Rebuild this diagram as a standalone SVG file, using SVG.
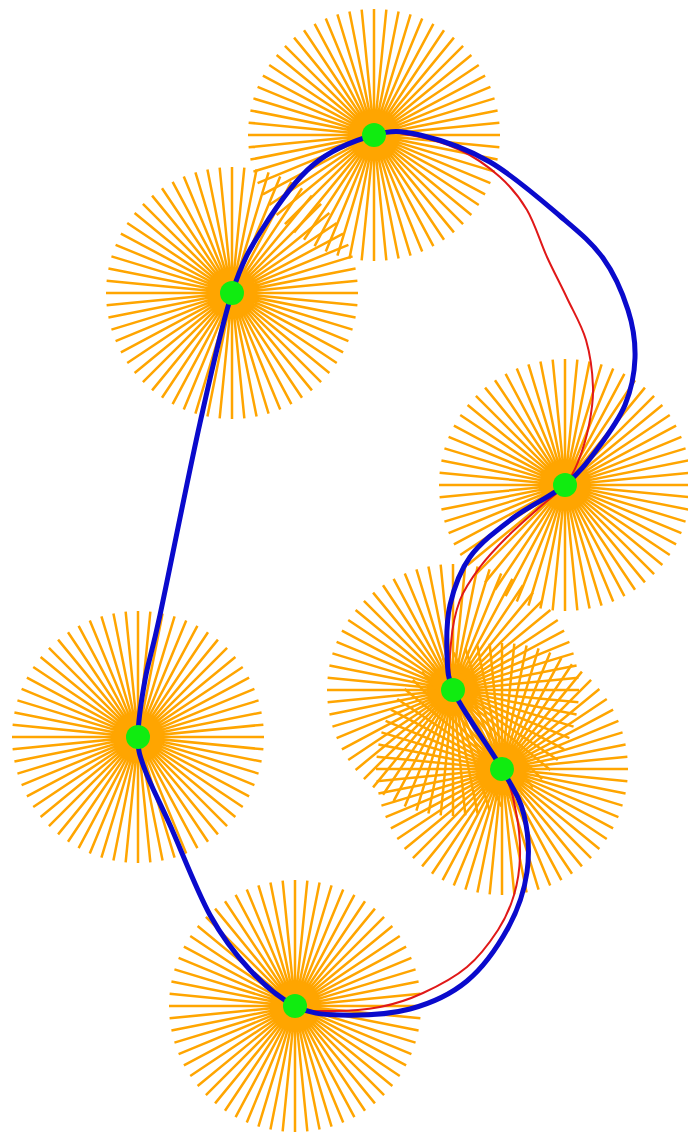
<svg xmlns="http://www.w3.org/2000/svg" xmlns:xlink="http://www.w3.org/1999/xlink" width="688" height="1135" viewBox="0 0 688 1135">
<style>
.ray{fill:none;stroke:#FFA500;stroke-width:2.5}
.blue{fill:none;stroke:#0a0acc;stroke-width:5;stroke-linejoin:round}
.red{fill:none;stroke:#e01818;stroke-width:2}
.dot{fill:#10ec10}
</style>
<defs>
<path id="burst" class="ray" d="M-126 0H126M-125.39 -12.35L125.39 12.35M-123.58 -24.58L123.58 24.58M-120.57 -36.58L120.57 36.58M-116.41 -48.22L116.41 48.22M-111.12 -59.4L111.12 59.4M-104.77 -70L104.77 70M-97.4 -79.93L97.4 79.93M-89.1 -89.1L89.1 89.1M-79.93 -97.4L79.93 97.4M-70 -104.77L70 104.77M-59.4 -111.12L59.4 111.12M-48.22 -116.41L48.22 116.41M-36.58 -120.57L36.58 120.57M-24.58 -123.58L24.58 123.58M-12.35 -125.39L12.35 125.39M0 -126V126M12.35 -125.39L-12.35 125.39M24.58 -123.58L-24.58 123.58M36.58 -120.57L-36.58 120.57M48.22 -116.41L-48.22 116.41M59.4 -111.12L-59.4 111.12M70 -104.77L-70 104.77M79.93 -97.4L-79.93 97.4M89.1 -89.1L-89.1 89.1M97.4 -79.93L-97.4 79.93M104.77 -70L-104.77 70M111.12 -59.4L-111.12 59.4M116.41 -48.22L-116.41 48.22M120.57 -36.58L-120.57 36.58M123.58 -24.58L-123.58 24.58M125.39 -12.35L-125.39 12.35"/>
</defs>
<rect width="688" height="1135" fill="#ffffff"/>
<g id="node-1"><use href="#burst" xlink:href="#burst" x="374" y="135"/></g>
<g id="node-2"><use href="#burst" xlink:href="#burst" x="232" y="293"/></g>
<g id="node-3"><use href="#burst" xlink:href="#burst" x="565" y="485"/></g>
<g id="node-4"><use href="#burst" xlink:href="#burst" x="453" y="690"/></g>
<g id="node-5"><use href="#burst" xlink:href="#burst" x="502" y="769"/></g>
<g id="node-6"><use href="#burst" xlink:href="#burst" x="138" y="737"/></g>
<g id="node-7"><use href="#burst" xlink:href="#burst" x="295" y="1006"/></g>
<g id="connectors">
<path id="curve-red" class="red" d="M374 135C390.17 130 395.67 132.5 410 135C424.33 137.5 445 143 460 150C475 157 488.83 167 500 177C511.17 187 519.17 196.67 527 210C534.83 223.33 540.33 242.33 547 257C553.67 271.67 560.5 284.17 567 298C573.5 311.83 581.67 325.17 586 340C590.33 354.83 592.5 372.83 593 387C593.5 401.17 591.5 412.5 589 425C586.5 437.5 582 452 578 462C574 472 571.33 477.5 565 485C558.67 492.5 549.67 498.33 540 507C530.33 515.67 517 527 507 537C497 547 487.83 556.5 480 567C472.17 577.5 464.83 587.33 460 600C455.17 612.67 452.17 628 451 643C449.83 658 447 672 453 690C459 708 491.5 748.67 502 769C512.5 789.33 513 797.5 516 812C519 826.5 520.33 842.17 520 856C519.67 869.83 517.67 882.67 514 895C510.33 907.33 505.83 918 498 930C490.17 942 479.5 956.5 467 967C454.5 977.5 437.5 986.33 423 993C408.5 999.67 395.5 1004 380 1007C364.5 1010 344.17 1011.17 330 1011C315.83 1010.83 308.33 1012.83 295 1006C281.67 999.17 264.17 985.17 250 970C235.83 954.83 223.33 939.17 210 915C196.67 890.83 180.83 849.17 170 825C159.17 800.83 150.33 784.67 145 770C139.67 755.33 138 752 138 737C138 722 141.33 700.33 145 680C148.67 659.67 150.83 657.83 160 615C169.17 572.17 188 476.67 200 423C212 369.33 221.5 325.5 232 293C242.5 260.5 249.5 249.33 263 228C276.5 206.67 294.5 180.5 313 165C331.5 149.5 357.83 140 374 135Z"/>
<path id="curve-blue" class="blue" d="M374 135C391.83 130 400.67 130.5 420 135C439.33 139.5 466.67 148.5 490 162C513.33 175.5 541.17 200 560 216C578.83 232 591.67 242.33 603 258C614.33 273.67 622.67 293.33 628 310C633.33 326.67 635.5 342.17 635 358C634.5 373.83 631.17 390 625 405C618.83 420 608 434.67 598 448C588 461.33 579.17 473.33 565 485C550.83 496.67 528.83 506 513 518C497.17 530 480.5 542.5 470 557C459.5 571.5 453.83 588.67 450 605C446.17 621.33 446.5 640.83 447 655C447.5 667 447.5 679 453 690C459 706 490.17 748.17 502 769C513.83 789.83 519.83 797.83 524 815C528.17 832.17 529.67 853.17 527 872C524.33 890.83 518 909.83 508 928C498 946.17 483.33 967.5 467 981C450.67 994.5 431.17 1003.33 410 1009C388.83 1014.67 359.17 1015.5 340 1015C320.83 1014.5 310 1013.5 295 1006C280 998.5 264.17 985.17 250 970C235.83 954.83 223.33 939.17 210 915C196.67 890.83 180.83 849.17 170 825C159.17 800.83 150.33 784.67 145 770C139.67 755.33 138 752 138 737C138 722 141.33 700.33 145 680C148.67 659.67 150.83 657.83 160 615C169.17 572.17 188 476.67 200 423C212 369.33 221.5 325.5 232 293C242.5 260.5 249.5 249.33 263 228C276.5 206.67 294.5 180.5 313 165C331.5 149.5 356.17 140 374 135Z"/>
</g>
<g id="points">
<circle id="dot-1" class="dot" cx="374" cy="135" r="12"/>
<circle id="dot-2" class="dot" cx="232" cy="293" r="12"/>
<circle id="dot-3" class="dot" cx="565" cy="485" r="12"/>
<circle id="dot-4" class="dot" cx="453" cy="690" r="12"/>
<circle id="dot-5" class="dot" cx="502" cy="769" r="12"/>
<circle id="dot-6" class="dot" cx="138" cy="737" r="12"/>
<circle id="dot-7" class="dot" cx="295" cy="1006" r="12"/>
</g>
</svg>
